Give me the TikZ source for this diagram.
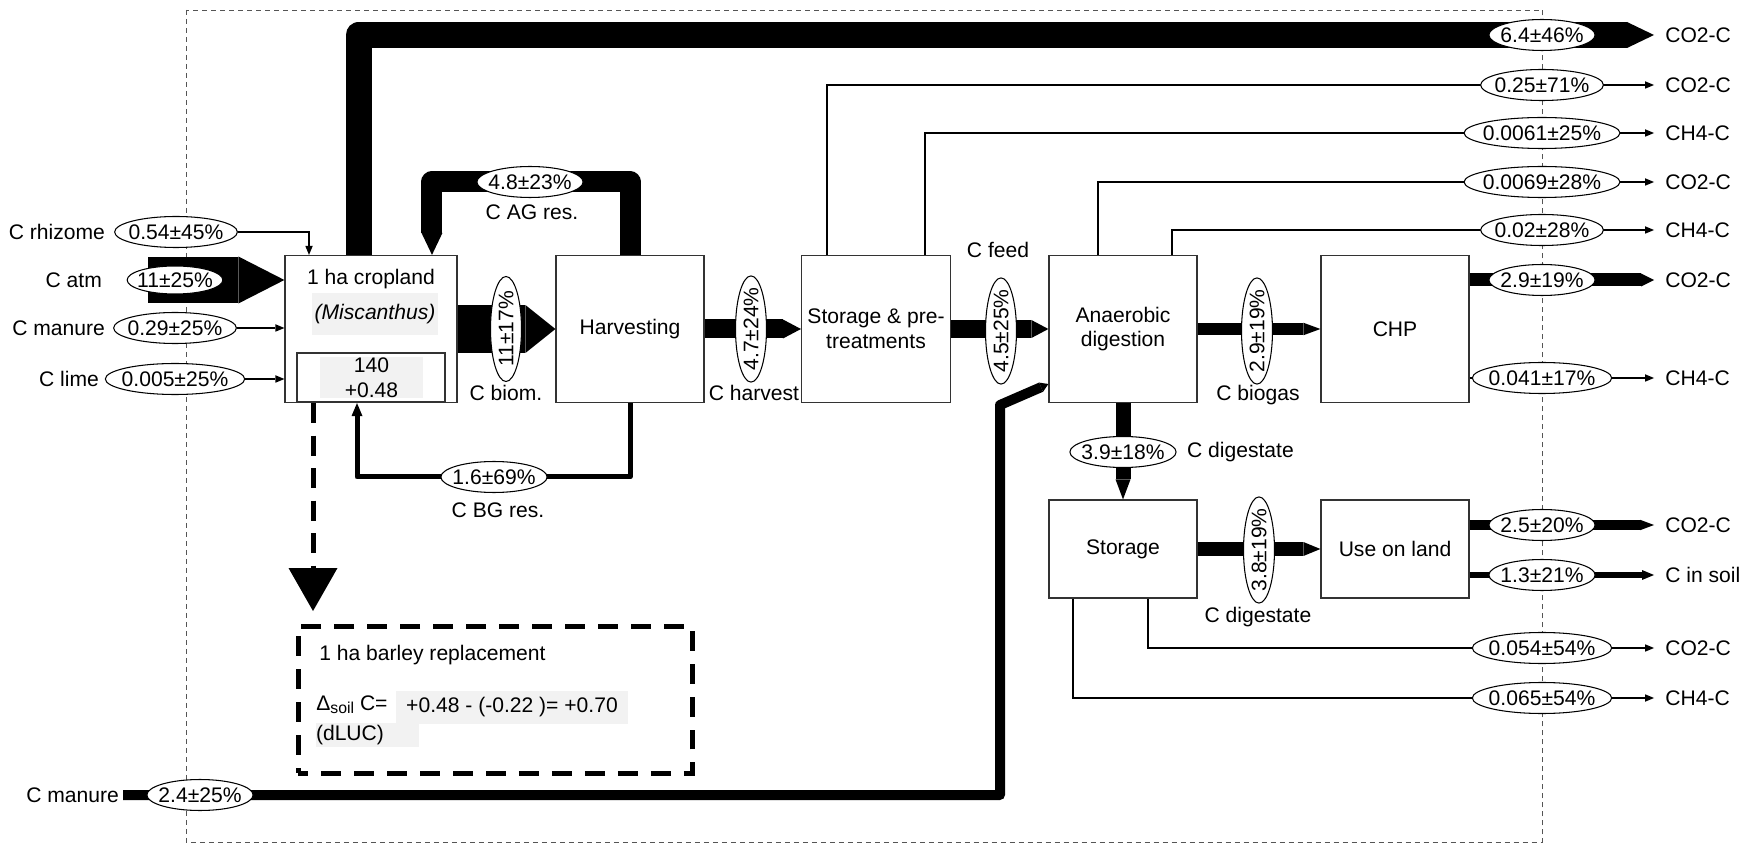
\documentclass[tikz,border=0pt]{standalone}
\usepackage{fontspec}
\setmainfont{Liberation Sans}
\usepackage{xcolor}
\definecolor{grisFondo}{HTML}{F2F2F2}
\definecolor{grisMarco}{HTML}{555555}
\usetikzlibrary{arrows.meta,shapes.geometric}
\begin{document}
\begin{tikzpicture}[x=0.02cm,y=-0.02cm,
 every node/.style={font=\fontsize{12}{14}\selectfont},
 proc/.style={draw=black!80,fill=white,line width=0.7pt,minimum width=2.96cm,minimum height=2.94cm,align=center},
 procLow/.style={proc,minimum height=1.96cm},
 flowVal/.style={ellipse,draw,fill=white,line width=0.6pt,inner xsep=-0.08cm,inner ysep=0pt,minimum height=0.62cm},
 flowValV/.style={flowVal,rotate=90,minimum width=2.1cm},
 edgeLabel/.style={inner sep=1pt},
 outLabel/.style={anchor=west,inner xsep=0.22cm,inner ysep=0pt},
 band/.style={line width=#1,line join=round},
 arrFat/.style={-{Triangle[width=0pt 1,length=#1,line width=0pt]}},
 arrThin/.style={line width=0.7pt,-{Triangle[length=0.18cm,width=0.15cm,line width=0pt]}},
 greyBg/.style={fill=grisFondo,inner sep=0pt},
 limite/.style={draw=grisMarco,line width=0.5pt,dash pattern=on 0.1cm off 0.08cm}]
 \useasboundingbox (0,0) rectangle (1742,844);
 \draw[limite] (186,10) rectangle (1542,842);

 \node[proc,minimum width=3.44cm] (crop) at (371,329) {};
 \node (cropName) at (371,279) {1 ha cropland};
 \node[greyBg,minimum width=2.52cm,minimum height=0.84cm,font=\fontsize{12}{14}\selectfont\itshape] (cropSp) at (375,314) {(Miscanthus)};
 \node[draw=black!80,line width=0.6pt,minimum width=2.96cm,minimum height=0.98cm] (soil) at (371,377.5) {};
 \node[greyBg,minimum width=2.06cm,minimum height=0.82cm,align=center] (soilVal) at (371.5,377.5) {140\\+0.48};
 \node[proc] (harv) at (630,329) {Harvesting};
 \node[proc] (pre) at (876,329) {Storage \& pre-\\treatments};
 \node[proc] (ad) at (1123,329) {Anaerobic\\digestion};
 \node[proc] (chp) at (1395,329) {CHP};
 \node[procLow] (dsto) at (1123,549) {Storage};
 \node[procLow] (land) at (1395,549) {Use on land};

 \node[edgeLabel,anchor=east] (rhzL) at (107,232) {C rhizome};
 \node[flowVal] (rhz) at (176,232) {0.54±45\%};
 \node[edgeLabel,anchor=east] (atmL) at (104,280) {C atm};
 \node[edgeLabel,anchor=east] (manL) at (107,328) {C manure};
 \node[flowVal] (man) at (175,328) {0.29±25\%};
 \node[edgeLabel,anchor=east] (limeL) at (101,379) {C lime};
 \node[flowVal] (lime) at (175,379) {0.005±25\%};
 \node[edgeLabel,anchor=east] (manBL) at (121,795) {C manure};

 \node[outLabel] (o1) at (1654,35) {CO2-C};
 \node[outLabel] (o2) at (1654,85) {CO2-C};
 \node[outLabel] (o3) at (1654,133) {CH4-C};
 \node[outLabel] (o4) at (1654,182) {CO2-C};
 \node[outLabel] (o5) at (1654,230) {CH4-C};
 \node[outLabel] (o6) at (1654,280) {CO2-C};
 \node[outLabel] (o7) at (1654,378) {CH4-C};
 \node[outLabel] (o8) at (1654,525) {CO2-C};
 \node[outLabel] (o9) at (1654,575) {C in soil};
 \node[outLabel] (o10) at (1654,648) {CO2-C};
 \node[outLabel] (o11) at (1654,698) {CH4-C};

 \node[draw,line width=0.1cm,dash pattern=on 0.4cm off 0.26cm,dash phase=0.2cm,minimum width=7.9cm,minimum height=2.94cm] (barley) at (495.5,700) {};
 \node[anchor=west,inner sep=0pt] (barleyT) at (319,655) {1 ha barley replacement};
 \node[anchor=west,inner sep=0pt] (dSoil) at (316,705) {Δ\raisebox{-0.3ex}{\small soil} C=};
 \node[greyBg,minimum width=4.64cm,minimum height=0.66cm] (dVal) at (512,707.5) {+0.48 - (-0.22 )= +0.70};
 \node[greyBg,text width=2.06cm,minimum height=0.5cm,align=left] (dluc) at (367.5,735) {(dLUC)};

 \coordinate (atmIn) at (148,280);
 \coordinate (agTop) at (530,182);
 \coordinate (bgBot) at (494,477);
 \coordinate (mIn) at (123,795);
 \coordinate (mBend) at (1000,405);
 \coordinate (dl) at ([xshift=-1.16cm]crop.south);

 \draw[arrThin] (rhz.east) -| ([xshift=-1.24cm]crop.north);
 \draw[band=0.94cm,arrFat=0.92cm] (atmIn) -- (crop.west |- atmIn);
 \draw[arrThin] (man.east) -- (crop.west |- man.east);
 \draw[arrThin] (lime.east) -- (crop.west |- lime.east);
 \draw[band=0.52cm,arrFat=0.54cm] ([xshift=-0.25cm]crop.north) |- (o1.west);
 \draw[band=0.42cm,arrFat=0.44cm] (harv.north) |- (agTop) -| ([xshift=1.22cm]crop.north);
 \draw[band=0.1cm,-{Triangle[length=0.26cm,width=0.22cm,line width=0pt]}] (harv.south) |- (bgBot) -| ([xshift=-0.28cm]crop.south);
 \draw[band=0.96cm,arrFat=0.6cm] (crop.east) -- (harv.west);
 \draw[band=0.38cm,arrFat=0.36cm] (harv.east) -- (pre.west);
 \draw[band=0.36cm,arrFat=0.34cm] (pre.east) -- (ad.west);
 \draw[band=0.25cm,arrFat=0.34cm] (ad.east) -- (chp.west);
 \draw[band=0.3cm,arrFat=0.4cm] (ad.south) -- (dsto.north);
 \draw[band=0.28cm,arrFat=0.34cm] (dsto.east) -- (land.west);
 \draw[arrThin] ([xshift=-0.98cm]pre.north) |- (o2.west);
 \draw[arrThin] ([xshift=0.98cm]pre.north) |- (o3.west);
 \draw[arrThin] ([xshift=-0.5cm]ad.north) |- (o4.west);
 \draw[arrThin] ([xshift=0.98cm]ad.north) |- (o5.west);
 \draw[band=0.26cm,arrFat=0.26cm] (chp.east |- o6.west) -- (o6.west);
 \draw[arrThin] (chp.east |- o7.west) -- (o7.west);
 \draw[band=0.21cm,arrFat=0.28cm] (land.east |- o8.west) -- (o8.west);
 \draw[band=0.11cm,-{Triangle[length=0.24cm,width=0.2cm,line width=0pt]}] (land.east |- o9.west) -- (o9.west);
 \draw[arrThin] ([xshift=0.5cm]dsto.south) |- (o10.west);
 \draw[arrThin] ([xshift=-1cm]dsto.south) |- (o11.west);
 \draw[band=0.2cm,arrFat=0.16cm] (mIn) -| (mBend) -- ([yshift=-1.1cm]ad.west);
 \draw[line width=0.1cm,dash pattern=on 0.4cm off 0.25cm,-{Triangle[width=0.98cm,length=0.86cm,line width=0pt]},shorten >=0.26cm] (dl) -- (dl |- barley.north);

 \node[flowVal,minimum height=0.56cm] (atm) at (175,280) {11±25\%};
 \node[flowValV] (biomV) at (506,329) {11±17\%};
 \node[flowValV] (harvV) at (751,329) {4.7±24\%};
 \node[flowValV] (feedV) at (1001,331) {4.5±25\%};
 \node[flowValV] (gasV) at (1257,331) {2.9±19\%};
 \node[flowValV] (dig2V) at (1259,550) {3.8±19\%};
 \node[flowVal] (dig1V) at (1123,452) {3.9±18\%};
 \node[flowVal] (agV) at (agTop) {4.8±23\%};
 \node[flowVal] (bgV) at (bgBot) {1.6±69\%};
 \node[flowVal] (manB) at (200,795) {2.4±25\%};
 \node[flowVal] (v1) at (1542,35) {6.4±46\%};
 \node[flowVal] (v2) at (1542,85) {0.25±71\%};
 \node[flowVal] (v3) at (1542,133) {0.0061±25\%};
 \node[flowVal] (v4) at (1542,182) {0.0069±28\%};
 \node[flowVal] (v5) at (1542,230) {0.02±28\%};
 \node[flowVal] (v6) at (1542,280) {2.9±19\%};
 \node[flowVal] (v7) at (1542,378) {0.041±17\%};
 \node[flowVal] (v8) at (1542,525) {2.5±20\%};
 \node[flowVal] (v9) at (1542,575) {1.3±21\%};
 \node[flowVal] (v10) at (1542,648) {0.054±54\%};
 \node[flowVal] (v11) at (1542,698) {0.065±54\%};

 \node[edgeLabel] (agL) at (532,212) {C AG res.};
 \node[edgeLabel] (biomL) at (506,393) {C biom.};
 \node[edgeLabel] (harvL) at (754,393) {C harvest};
 \node[edgeLabel] (bgL) at (498,510) {C BG res.};
 \node[edgeLabel] (feedL) at (998,250) {C feed};
 \node[edgeLabel] (gasL) at (1258,395) {C biogas};
 \node[edgeLabel,anchor=west] (dig1L) at (1185,452) {C digestate};
 \node[edgeLabel] (dig2L) at (1258,617) {C digestate};
\end{tikzpicture}
\end{document}
